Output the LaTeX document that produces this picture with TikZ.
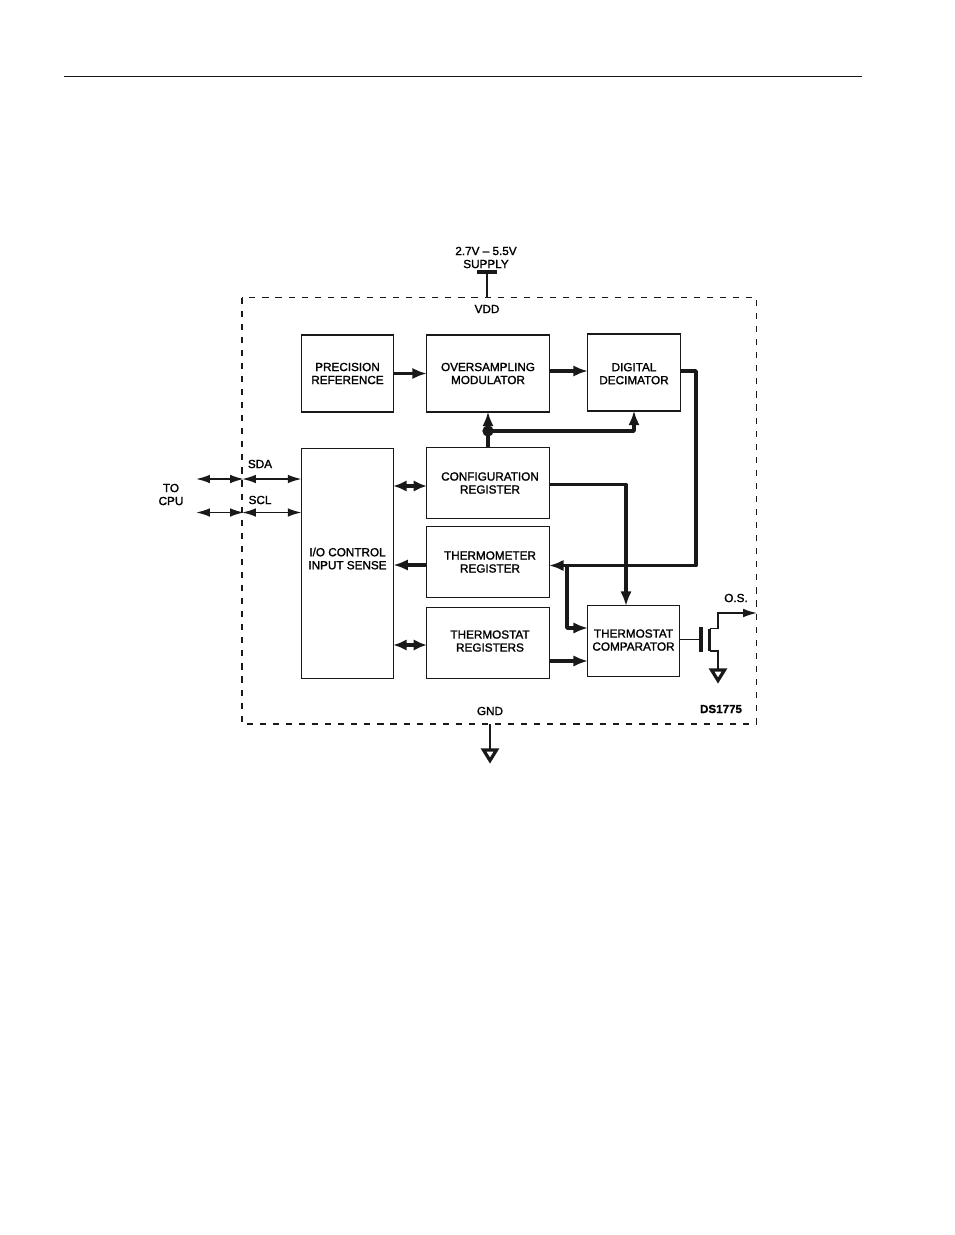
\documentclass[tikz,border=0pt]{standalone}
\usepackage{fontspec}
\setmainfont{Liberation Sans}
\newfontfamily\labelfont[FakeBold=1.5]{Liberation Sans}
\newfontfamily\partfont[FakeBold=1]{Liberation Sans Bold}
\usetikzlibrary{arrows.meta}
\newcommand\nudge{\hspace*{3pt}}
\tikzset{
  every node/.style={font=\labelfont\fontsize{8.8}{9.75}\selectfont, align=center, inner sep=0pt, text=black},
  block/.style={draw=black!90, line width=1.2pt, fill=white},
  frame/.style={draw=black!90, line width=1.15pt, dash pattern=on 4.6pt off 5.2pt},
  bus/.style={draw=black!90, line width=2.7pt, line join=round, shorten >=-0.8pt, -{Latex[length=11pt,width=8.5pt]}},
  busboth/.style={draw=black!90, line width=2.7pt, shorten >=-0.8pt, shorten <=-0.8pt, {Latex[length=10pt,width=8.5pt]}-{Latex[length=10pt,width=8.5pt]}},
  busplain/.style={draw=black!90, line width=2.7pt, line join=round},
  wire/.style={draw=black!90, line width=1.2pt, line join=miter},
  wireboth/.style={draw=black!90, line width=1.4pt, shorten >=-0.8pt, shorten <=-0.8pt, {Latex[length=10.5pt,width=6.5pt]}-{Latex[length=10.5pt,width=6.5pt]}},
  wireout/.style={draw=black!90, line width=1.2pt, shorten >=-0.8pt, -{Latex[length=10.5pt,width=6.5pt]}},
  bar/.style={draw=black!90, line width=2.3pt},
  ground/.style={draw=black!90, line width=2.4pt, line join=miter},
  dot/.style={circle, fill=black!90, minimum size=8.5pt}
}
\begin{document}
\begin{tikzpicture}[x=0.75pt,y=-0.75pt]
\path[use as bounding box, fill=white] (0,0) rectangle (954,1235);

% header rule
\coordinate (ruleL) at (64,76.5);
\coordinate (ruleR) at (862,76.5);
\draw[draw=black!90, line width=0.9pt] (ruleL) -- (ruleR);

% device outline
\coordinate (frameNW) at (242,297.5);
\coordinate (frameSE) at (756.5,724);
\draw[frame] (frameNW) rectangle (frameSE);

% functional blocks
\node[block, minimum width=69pt, minimum height=57.5pt] (prec) at (347.5,373.5) {PRECISION\\REFERENCE};
\node[block, minimum width=92pt, minimum height=57.5pt] (over) at (488,373.5) {OVERSAMPLING\\MODULATOR};
\node[block, minimum width=69.5pt, minimum height=57.5pt, text height=17.6pt] (deci) at (634,372.5) {DIGITAL\\DECIMATOR};
\node[block, minimum width=69pt, minimum height=172.5pt, text depth=7.5pt] (io) at (347.5,563.5) {I/O CONTROL\\INPUT SENSE};
\node[block, minimum width=92pt, minimum height=53.5pt] (conf) at (488,483) {\nudge CONFIGURATION\\\nudge REGISTER};
\node[block, minimum width=92pt, minimum height=53.5pt] (term) at (488,562) {\nudge THERMOMETER\\\nudge REGISTER};
\node[block, minimum width=92pt, minimum height=53.5pt, text depth=3pt] (stat) at (488,643) {\nudge THERMOSTAT\\\nudge REGISTERS};
\node[block, minimum width=69pt, minimum height=53.5pt, text depth=1.5pt] (comp) at (633.5,641) {THERMOSTAT\\COMPARATOR};

% port labels
\node (cpu) at (171,494.5) {TO\\CPU};
\node (sda) at (260,464) {SDA};
\node (scl) at (260,500) {SCL};
\node (supply) at (486,257.5) {2.7V – 5.5V\\SUPPLY};
\node (vdd) at (487,309) {VDD};
\node (gnd) at (490,711) {GND};
\node (os) at (736,598) {O.S.};
\node[font=\partfont\fontsize{8.7}{9.75}\selectfont] (part) at (721,709) {DS1775};

% attachment points along block edges
\coordinate (precOut) at (prec.east);
\coordinate (overIn) at (over.west);
\coordinate (overOut) at (550,371);
\coordinate (deciIn) at (deci.west |- overOut);
\coordinate (deciOut) at (681,371);
\coordinate (deciTurn) at (696,371);
\coordinate (busTurn) at (696,565.5);
\coordinate (termIn) at (550,565.5);
\coordinate (tap) at (567,565.5);
\coordinate (compA) at (587,628);
\coordinate (tapTurn) at (567,628);
\coordinate (compB) at (587,661);
\coordinate (statOut) at (550,661);
\coordinate (confOut) at (550,484.5);
\coordinate (confTurn) at (626,484.5);
\coordinate (compTop) at (626,605);
\coordinate (split) at (488,431);
\coordinate (deciBelow) at (634,431);

% on-chip data paths
\draw[bus] (precOut) -- (overIn);
\draw[bus] (overOut) -- (deciIn);
\draw[busplain] (conf.north) -- (split);
\draw[bus] (split) -- (over.south);
\draw[bus] (split) -- (deciBelow) -- (deci.south);
\node[dot] (splitDot) at (split) {};
\draw[bus] (deciOut) -- (deciTurn) -- (busTurn) -- (termIn);
\draw[bus] (tap) -- (tapTurn) -- (compA);
\draw[bus] (statOut) -- (compB);
\draw[bus] (confOut) -- (confTurn) -- (compTop);

% register bus to the I/O block
\coordinate (ioConf) at (io.east |- 0,486);
\coordinate (confIn) at (conf.west |- 0,486);
\coordinate (ioTerm) at (io.east |- 0,565);
\coordinate (termOut) at (term.west |- 0,565);
\coordinate (ioStat) at (io.east |- 0,645);
\coordinate (statIn) at (stat.west |- 0,645);
\draw[busboth] (ioConf) -- (confIn);
\draw[bus] (termOut) -- (ioTerm);
\draw[busboth] (ioStat) -- (statIn);

% serial lines
\coordinate (sdaExt) at (197,479);
\coordinate (sdaPin) at (243,479);
\coordinate (sdaIo) at (io.west |- sdaPin);
\coordinate (sclExt) at (197,512.5);
\coordinate (sclPin) at (243,512.5);
\coordinate (sclIo) at (io.west |- sclPin);
\draw[wireboth] (sdaExt) -- (sdaPin);
\draw[wireboth] (sdaPin) -- (sdaIo);
\draw[wireboth] (sclExt) -- (sclPin);
\draw[wireboth] (sclPin) -- (sclIo);

% supply pin
\coordinate (vddBarL) at (477,272);
\coordinate (vddBarR) at (497,272);
\coordinate (vddTop) at (487,272);
\coordinate (vddPin) at (487,297.5);
\draw[bar] (vddBarL) -- (vddBarR);
\draw[wire] (vddTop) -- (vddPin);

% ground pin
\coordinate (gndPin) at (490,724);
\coordinate (gndTop) at (490,750);
\coordinate (gndL) at (483.5,750);
\coordinate (gndR) at (496.5,750);
\coordinate (gndTip) at (490,760.5);
\draw[wire] (gndPin) -- (gndTop);
\draw[ground] (gndL) -- (gndR) -- (gndTip) -- cycle;

% open-drain output transistor
\coordinate (gateIn) at (comp.east |- 0,639.5);
\coordinate (gate) at (701,639.5);
\coordinate (gateTop) at (701,627);
\coordinate (gateBot) at (701,652);
\coordinate (chanTop) at (709.5,628.5);
\coordinate (chanBot) at (709.5,651);
\coordinate (drain) at (718,628.5);
\coordinate (drainUp) at (718,613);
\coordinate (osPin) at (756,613);
\coordinate (source) at (718,651);
\coordinate (sourceDown) at (718,670);
\coordinate (srcL) at (711.5,670);
\coordinate (srcR) at (724.5,670);
\coordinate (srcTip) at (718,680.5);
\draw[wire] (gateIn) -- (gate);
\draw[bar] (gateTop) -- (gateBot);
\draw[bar] (chanTop) -- (chanBot);
\draw[wire] (chanTop) -- (drain);
\draw[wireout] (drain) -- (drainUp) -- (osPin);
\draw[wire] (chanBot) -- (source) -- (sourceDown);
\draw[ground] (srcL) -- (srcR) -- (srcTip) -- cycle;
\end{tikzpicture}
\end{document}
